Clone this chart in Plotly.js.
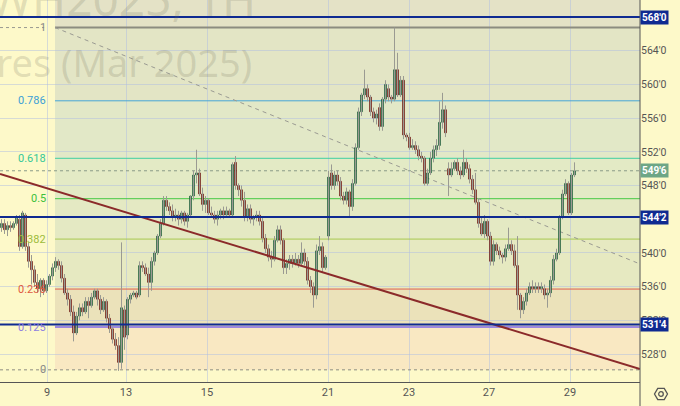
<!DOCTYPE html>
<html><head><meta charset="utf-8">
<script src="https://cdn.plot.ly/plotly-3.0.1.min.js"></script>
<style>html,body{margin:0;padding:0;background:#fdf9c9;}#chart{width:680px;height:406px;}</style>
</head><body><div id="chart"></div>
<script>
// ---- data (hourly bars, price in cents/bu) ----
const opens = [
543,543.5,542.75,543.25,543,543.5,544,540.75,544.5,540.75,
539,538,536.5,535.75,536.75,535.5,536.25,537.25,538.25,539,
538.5,537,535.25,534.5,533,530.5,532.5,533.5,533,534.25,
533.75,534.75,535.5,534.5,533.25,534.25,532.25,531,529.75,529,
527,533.25,530.25,534.5,535,535.25,535,538.5,538.25,537.5,
536.5,539,540,542,543.5,546.25,545.5,545,544.25,544.5,
544,544.75,543.75,544.5,546.75,549.25,549.5,547,545.75,546.25,
544.75,544.5,544,544.5,545,544.5,545,544.5,550.75,548,
547.5,546.25,544.25,545.25,544,544.25,544.5,543.75,541.75,540.5,
539.5,539.25,541.5,542.75,541.5,538.25,538.75,539.25,538.75,539.25,
538.75,540,539,536.75,536,535,540.25,540.75,538.25,542,
549.5,548,549.25,548.5,546.75,546.25,547.25,545.5,548.25,552.5,
556.75,558.75,559.5,558.5,556.75,556,557.25,555,558.25,559.5,
558.5,558.25,561.75,558.75,560.5,554,553.75,552.5,552.75,552.25,
551.5,551.25,548.25,549.5,551.25,552.25,552.75,555.5,557,550,
549.25,550,550.75,549.75,549.25,550.75,550,548.75,547.5,546,
543.5,542.25,543.75,542,539,541,540.25,539.75,539.5,540.5,
541,540.25,538.5,535,533.25,534.25,535.25,536,535.75,536,
535.75,535.75,535,535.25,536.75,539.25,540,544.25,547,548.25,
544.75,549.25];
const highs = [
544,544,543.75,543.75,543.75,544.5,544.5,545,544.75,541.25,
539.75,538.5,537.5,537,537,536.75,537.5,538.75,539.5,539.25,
539,537.5,535.75,535,533.75,533,534,534,534.75,534.75,
535.25,535.75,535.75,535,534.75,534.5,532.75,531.25,530.5,530,
541.25,533.75,534.75,535.25,535.5,535.5,539,539,538.75,538.25,
539.5,540.25,542.25,544,546.75,546.75,546,545.75,545.25,545,
545,545,544.75,546.75,549.75,552.25,550,547.75,546.75,546.5,
545.5,545,545,545.25,545.5,545.5,545.25,550.75,551.5,548.25,
548,547.25,545.75,545.75,544.5,545,545,544.25,542.25,541,
540.25,542,543.25,543.25,541.75,539.25,539.75,539.75,540,539.75,
541.25,540.5,539.5,537.25,536.5,541,542,541.25,539.75,549.75,
550.5,549.75,549.75,549,547.25,547.75,547.5,548.75,553,557.25,
559,561.75,560,558.75,557.25,557,557.75,558.5,560.5,560,
558.75,566.75,563.75,561,561,554.25,554.25,553.5,553.25,552.75,
552,551.5,550,552,552.75,553.5,558,559,557.5,550.75,
550.75,551,551.25,550.25,552.25,551.25,550.5,549.25,549.5,546.5,
544.25,544.5,544,542.5,541.5,541.25,540.75,540,541,543,
541.5,541,542,535.25,534.75,535.75,536.5,536.75,536.5,536.5,
536.5,536.25,535.75,537.25,539.75,540.5,544.5,547.5,548.75,548.5,
549.5,550.75];
const lows = [
542.5,542.25,542,542.5,542.75,543.25,540.25,540.5,540.25,538.25,
536.25,536,535.25,534.75,535,535.25,536,536.75,537.75,538,
536.5,535,533.75,532.5,529.5,530.25,532,532.5,532.75,532.25,
533.5,534.5,533.75,532.75,533,531.75,530.5,529.25,528.5,526,
526.25,528.5,529.75,534,534.75,534.5,534.75,537.75,537.25,534.75,
535.5,538.5,539.75,541.75,543.25,545,544.5,543.75,543.75,543.25,
543.5,543.25,543,544.25,546.25,548.25,546.75,545,544.75,544.5,
544.25,543.5,543.25,544,544,544.25,544.5,544.5,547.5,546.75,
545.5,543.75,543.75,543.5,543.25,543.75,543.25,541.25,540,539,
538.25,539,541.25,541,537.5,537.5,538,538.25,538.5,538.25,
538.5,538.5,536.25,535.25,533.5,534.5,539.75,537.75,538,541.5,
547.5,547.5,548,546.25,545.75,545.75,544.25,545,548,552.25,
556.25,558.25,558,556.25,555.5,555.25,554.5,554.5,557.75,558,
557.75,558,558.5,558.5,553.5,553.25,552.25,552.25,551.75,551,
550.75,548,548,549.25,550.75,551.5,552.25,554.75,553.75,546.75,
549,549.75,549.25,548.75,549,549.5,548.25,547,545.75,543,
542,541.75,541.5,538.5,538.5,539.75,539.25,538.75,539,540.25,
539.75,538.25,533.25,532.25,532.75,533.75,535,535.25,535.25,535.25,
535.25,534.5,533.5,534.75,536.25,539,539.75,544,546.75,544.5,
544.5,549];
const closes = [
543.5,542.75,543.25,543,543.5,544.25,540.75,544.75,540.75,539,
538,536.5,535.75,536.75,535.5,536.25,537.25,538.25,539,538.5,
537,535.25,534.5,533,530.5,532.5,533.5,533,534.25,533.75,
534.75,535.5,534.5,533.25,534.25,532.25,531,529.75,529,527,
533.5,530,534.5,535,535.25,534.75,538.5,538.25,537.5,536.5,
539,540,542,543.5,546.25,545.5,545,544.25,544.5,544,
544.75,543.75,544.5,546.75,549.25,549.5,547,545.75,546.25,544.75,
544.5,544,544.5,545,544.5,545,544.5,550.5,548,547.5,
546.25,544.25,545.25,544,544.25,544.5,543.75,541.75,540.5,539.5,
539.25,541.5,542.75,541.5,538.25,538.75,539.25,538.75,539.25,538.75,
540,539,536.75,536,535,540.25,540.75,538.25,539.5,549,
548,549.25,548.5,546.75,546.25,547.25,545.5,548.25,552.5,556.75,
558.75,559.5,558.5,556.75,556,556.5,555,558.25,560,558.5,
558.25,561.75,558.75,560.5,554,553.75,552.5,552.75,552.25,551.5,
551.25,548.25,549.5,551.25,552.25,552.75,555.5,557,554.25,549.25,
550,550.75,549.75,549.25,550.75,550,548.75,547.5,546,543.5,
542.25,543.75,542,539,541,540.25,539.75,539.5,540.5,541,
540.25,538.5,535,533.25,534.25,535.25,536,535.75,536,535.75,
536,535,535.25,536.75,539.25,540,544.25,547,548.25,544.75,
549.25,549.75];

const dayTickIndex = [15.17, 41.5, 68.5, 108.83, 135.83, 162.5, 189.5];
const dayTickText = ['9', '13', '15', '21', '23', '27', '29'];
const priceTicks = [528, 532, 536, 540, 548, 552, 556, 560, 564];
const priceTickText = ["528'0", "532'0", "536'0", "540'0", "548'0", "552'0", "556'0", "560'0", "564'0"];

const fibLow = 526.125, fibHigh = 566.75, fibStartIndex = 17.83;
const fibLevels = [0, 0.125, 0.236, 0.382, 0.5, 0.618, 0.786, 1];
const fibLabels = ['0', '0.125', '0.236', '0.382', '0.5', '0.618', '0.786', '1'];
const keyLevels = [568, 544.25, 531.5];
const keyLevelText = ["568'0", "544'2", "531'4"];
const lastPrice = 549.75, lastPriceText = "549'6";
const trendLineX = [-0.5, 212.83], trendLineY = [549.37, 526.22];
const fibDiagX = [17.83, 212.83], fibDiagY = [566.75, 538.69];

// ---- styles ----
const X_MAX = 212.83, Y_RANGE = [524.68, 570.02];
const fibLineColors = ['#8c8c80', '#9c88e0', '#e0604a', '#a8c850', '#44c844', '#3fd0a0', '#45a6d8', '#8c8c80'];
const fibTextColors = ['#888888', '#8f7fe0', '#e05a40', '#9cbc3c', '#3cc03c', '#36c898', '#3ca0d6', '#888888'];
const bandColors = ['#f9e8c2', '#ebe2ba', '#e6e9c1', '#e4e9c3', '#e3eac5', '#e2e8c7', '#e3e5c5'];
const aboveColor = '#e4e2c6';
const navy = '#0f2a91';
const font = 'Roboto, "Liberation Sans", sans-serif';

const idx = opens.map((_, i) => i);
const wx = [], wy = [];
idx.forEach(i => { wx.push(i, i, null); wy.push(lows[i], highs[i], null); });
const bodyHigh = idx.map(i => Math.max(opens[i], closes[i]));
const bodyLow = idx.map(i => Math.min(opens[i], closes[i]));

const fibPrice = l => fibLow + (fibHigh - fibLow) * l;
const shapes = [];
for (let k = 0; k < fibLevels.length - 1; k++) {
  shapes.push({type: 'rect', xref: 'x', yref: 'y', x0: fibStartIndex, x1: X_MAX,
    y0: fibPrice(fibLevels[k]), y1: fibPrice(fibLevels[k + 1]), fillcolor: bandColors[k], line: {width: 0}, layer: 'below'});
}
shapes.push({type: 'rect', xref: 'x', yref: 'y', x0: fibStartIndex, x1: X_MAX, y0: fibHigh, y1: Y_RANGE[1],
  fillcolor: aboveColor, line: {width: 0}, layer: 'below'});
fibLevels.forEach((l, k) => {
  const p = fibPrice(l);
  if (l === 0) {
    shapes.push({type: 'line', xref: 'x', yref: 'y', x0: -0.5, x1: X_MAX, y0: p, y1: p,
      line: {color: '#8c8c80', width: 1, dash: 'dot'}, layer: 'between'});
  } else {
    shapes.push({type: 'line', xref: 'x', yref: 'y', x0: fibStartIndex, x1: X_MAX, y0: p, y1: p,
      line: {color: fibLineColors[k], width: (l === 1 || l === 0.125) ? 2 : 1}, layer: 'between'});
  }
  if (l === 1) {
    shapes.push({type: 'line', xref: 'x', yref: 'y', x0: -0.5, x1: 14.2, y0: p, y1: p,
      line: {color: '#9a9a90', width: 1, dash: 'dot'}, layer: 'between'});
  }
});
shapes.push({type: 'line', xref: 'x', yref: 'y', x0: -0.5, x1: X_MAX, y0: lastPrice, y1: lastPrice,
  line: {color: '#8a9a88', width: 1, dash: 'dot'}, layer: 'between'});
shapes.push({type: 'line', xref: 'x', yref: 'y', x0: fibDiagX[0], x1: fibDiagX[1], y0: fibDiagY[0], y1: fibDiagY[1],
  line: {color: '#9a9a92', width: 1, dash: '4px,4px'}, layer: 'between'});
shapes.push({type: 'line', xref: 'x', yref: 'y', x0: trendLineX[0], x1: trendLineX[1], y0: trendLineY[0], y1: trendLineY[1],
  line: {color: '#8b2a2a', width: 2}, layer: 'above'});
keyLevels.forEach(p => shapes.push({type: 'line', xref: 'x', yref: 'y', x0: -0.5, x1: X_MAX, y0: p, y1: p,
  line: {color: navy, width: 2}, layer: 'above'}));
shapes.push({type: 'line', xref: 'paper', yref: 'paper', x0: 1, x1: 1, y0: -24 / 382, y1: 1,
  line: {color: '#555', width: 1}, layer: 'above'});
(function () {
  const cx = 661, cy = 394, r = 6.5;
  const px = v => v / 640, py = v => (382 - v) / 382;
  let d = '';
  for (let k = 0; k < 6; k++) {
    const a = Math.PI / 3 * k;
    d += (k ? 'L' : 'M') + px(cx + r * Math.cos(a)) + ',' + py(cy + r * Math.sin(a));
  }
  d += 'Z';
  shapes.push({type: 'path', xref: 'paper', yref: 'paper', path: d, line: {color: '#555', width: 1.3}, fillcolor: 'rgba(0,0,0,0)'});
  shapes.push({type: 'circle', xref: 'paper', yref: 'paper', x0: px(cx - 2.3), x1: px(cx + 2.3), y0: py(cy + 2.3), y1: py(cy - 2.3),
    line: {color: '#555', width: 1.3}});
})();

const annotations = [];
// watermark first (drawn underneath other annotations)
annotations.push({xref: 'paper', yref: 'paper', x: 258 / 640, y: (382 - 31) / 382, xanchor: 'right', yanchor: 'bottom',
  text: 'ZWH2025, 1H', showarrow: false, font: {family: '"Noto Sans", sans-serif', size: 46, color: 'rgba(110,110,90,0.2)'}});
annotations.push({xref: 'paper', yref: 'paper', x: 254 / 640, y: (382 - 62) / 382, xanchor: 'right', yanchor: 'middle',
  text: 'Wheat Futures (Mar 2025)', showarrow: false, font: {family: '"Noto Sans", sans-serif', size: 38, color: 'rgba(110,110,90,0.2)'}});
fibLevels.forEach((l, k) => annotations.push({xref: 'paper', yref: 'y', x: 48 / 640, y: fibPrice(l), xanchor: 'right', yanchor: 'middle',
  text: fibLabels[k], showarrow: false, font: {family: font, size: 11, color: fibTextColors[k]}}));
keyLevels.forEach((p, k) => annotations.push({xref: 'paper', yref: 'y', x: 1, y: p, xanchor: 'left', yanchor: 'middle',
  text: '<b>' + keyLevelText[k] + '</b>', showarrow: false, bgcolor: navy, borderpad: 1,
  font: {family: font, size: 10, color: '#ffffff'}}));
annotations.push({xref: 'paper', yref: 'y', x: 1, y: lastPrice, xanchor: 'left', yanchor: 'middle',
  text: '<b>' + lastPriceText + '</b>', showarrow: false, bgcolor: '#6da686', borderpad: 1,
  font: {family: font, size: 10, color: '#ffffff'}});

const traces = [
  {type: 'scatter', mode: 'lines', x: wx, y: wy, line: {color: '#9a9a92', width: 1}, hoverinfo: 'skip'},
  {type: 'candlestick', x: idx, open: opens, high: bodyHigh, low: bodyLow, close: closes, whiskerwidth: 0,
    increasing: {fillcolor: '#4a9a6c', line: {color: '#1f5a3a', width: 1}},
    decreasing: {fillcolor: '#c8372d', line: {color: '#6a1c16', width: 1}}, hoverinfo: 'skip'}
];

const layout = {
  width: 680, height: 406, margin: {l: 0, r: 40, t: 0, b: 24, pad: 0},
  paper_bgcolor: '#fdf9c9', plot_bgcolor: '#fdf9c9', showlegend: false, hovermode: false,
  xaxis: {range: [-0.5, X_MAX], tickmode: 'array', tickvals: dayTickIndex, ticktext: dayTickText,
    showgrid: true, gridcolor: 'rgba(175,190,225,0.5)', gridwidth: 1, zeroline: false,
    showline: true, linecolor: '#555', linewidth: 1, ticks: '', rangeslider: {visible: false}, fixedrange: true,
    tickfont: {family: font, size: 11, color: '#555'}},
  yaxis: {side: 'right', range: Y_RANGE, tickmode: 'array', tickvals: priceTicks, ticktext: priceTickText,
    showgrid: true, gridcolor: 'rgba(175,190,225,0.5)', gridwidth: 1, zeroline: false,
    showline: false, ticks: '', fixedrange: true, tickfont: {family: font, size: 10.5, color: '#555'}},
  shapes: shapes, annotations: annotations
};
Plotly.newPlot('chart', traces, layout, {displayModeBar: false, staticPlot: true});
</script></body></html>
